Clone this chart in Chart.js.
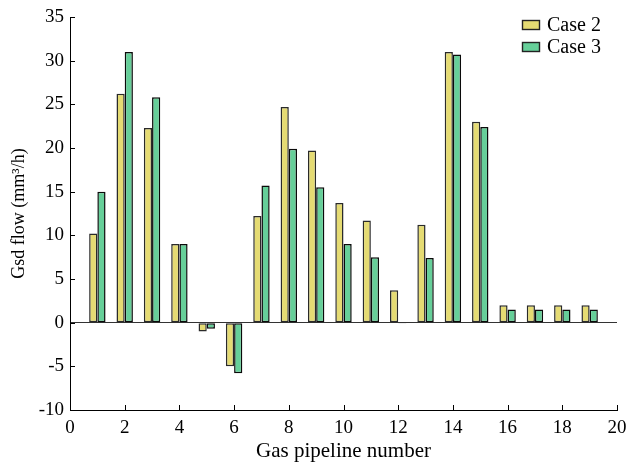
<!DOCTYPE html>
<html>
<head>
<meta charset="utf-8">
<script src="https://cdn.jsdelivr.net/npm/chart.js@4"></script>
<style>
html,body{margin:0;padding:0;background:#fff;}
#wrap{width:628px;height:465px;}
</style>
</head>
<body>
<div id="wrap"><canvas id="c" width="628" height="465"></canvas></div>
<script>
const pipelines = [1,2,3,4,5,6,7,8,9,10,11,12,13,14,15,16,17,18,19];
const case2 = [10.2,26.2,22.3,9.0,-1.0,-5.0,12.2,24.7,19.7,13.7,11.7,3.7,11.2,31.0,23.0,2.0,2.0,2.0,2.0];
const case3 = [15.0,31.0,25.8,9.0,-0.7,-5.8,15.7,19.9,15.5,9.0,7.5,-0.1,7.4,30.7,22.4,1.5,1.5,1.5,1.5];
const seriesNames = ['Case 2','Case 3'];
const xTitle = 'Gas pipeline number';
const yTitle = 'Gsd flow (mm\u00B3/h)';

const FONT = 'Liberation Serif, Times New Roman, serif';
const colors = ['#E5DB73','#66CF99'];

const innerTicks = {
  id:'innerTicks',
  afterDraw(chart){
    const {ctx, scales:{x,y}, chartArea:a} = chart;
    ctx.save();
    ctx.strokeStyle='#000'; ctx.lineWidth=1;
    ctx.beginPath();
    x.ticks.forEach(t=>{
      const px = Math.round(x.getPixelForValue(t.value))+0.5;
      ctx.moveTo(px, a.bottom); ctx.lineTo(px, a.bottom-5);
    });
    y.ticks.forEach(t=>{
      const py = Math.round(y.getPixelForValue(t.value))+0.5;
      ctx.moveTo(a.left, py); ctx.lineTo(a.left+5, py);
    });
    ctx.stroke();
    // legend
    const bx = a.right - 95;
    chart.data.datasets.forEach((ds,i)=>{
      const cy = a.top + 8 + i*22;
      ctx.fillStyle = ds.backgroundColor;
      ctx.fillRect(bx, cy-4.5, 17, 9);
      ctx.strokeStyle = '#222';
      ctx.lineWidth = 1.4;
      ctx.strokeRect(bx+0.5, cy-4.5, 17, 9);
      ctx.fillStyle = '#000';
      ctx.font = '20px ' + FONT;
      ctx.textBaseline = 'middle';
      ctx.textAlign = 'left';
      ctx.fillText(ds.label, bx+25, cy+1);
    });
    ctx.restore();
  }
};

new Chart(document.getElementById('c'), {
  type:'bar',
  data:{
    datasets:[
      {label:seriesNames[0], data:pipelines.map((p,i)=>({x:p,y:case2[i]})), backgroundColor:colors[0], borderColor:'#2a2a2a', borderWidth:1.5, borderSkipped:false},
      {label:seriesNames[1], data:pipelines.map((p,i)=>({x:p,y:case3[i]})), backgroundColor:colors[1], borderColor:'#0a0a0a', borderWidth:1.5, borderSkipped:false}
    ]
  },
  options:{
    responsive:false,
    animation:false,
    devicePixelRatio:1,
    categoryPercentage:0.6,
    barPercentage:1.0,
    layout:{padding:{left:0,right:11,top:17,bottom:0}},
    plugins:{legend:{display:false}, tooltip:{enabled:false}},
    scales:{
      x:{
        type:'linear', min:0, max:20, offset:false,
        ticks:{stepSize:2, color:'#000', font:{family:FONT,size:19}, padding:7, maxRotation:0},
        grid:{display:false, drawTicks:false},
        border:{display:true, color:'#000', width:1},
        title:{display:true, text:xTitle, color:'#000', font:{family:FONT,size:21}, padding:{top:0,bottom:1}},
        afterFit(s){ s.height = 55; s.paddingLeft = 0; s.paddingRight = 0; }
      },
      y:{
        min:-10, max:35,
        ticks:{stepSize:5, color:'#000', font:{family:FONT,size:19}, padding:6},
        grid:{drawTicks:false, color:(c)=> c.tick && c.tick.value===0 ? '#333' : 'rgba(0,0,0,0)', lineWidth:1},
        border:{display:true, color:'#000', width:1},
        title:{display:true, text:yTitle, color:'#000', font:{family:FONT,size:18}, padding:{top:8,bottom:0}},
        afterFit(s){ s.width = 70; s.paddingTop = 0; s.paddingBottom = 0; }
      }
    }
  },
  plugins:[innerTicks]
});
</script>
</body>
</html>
